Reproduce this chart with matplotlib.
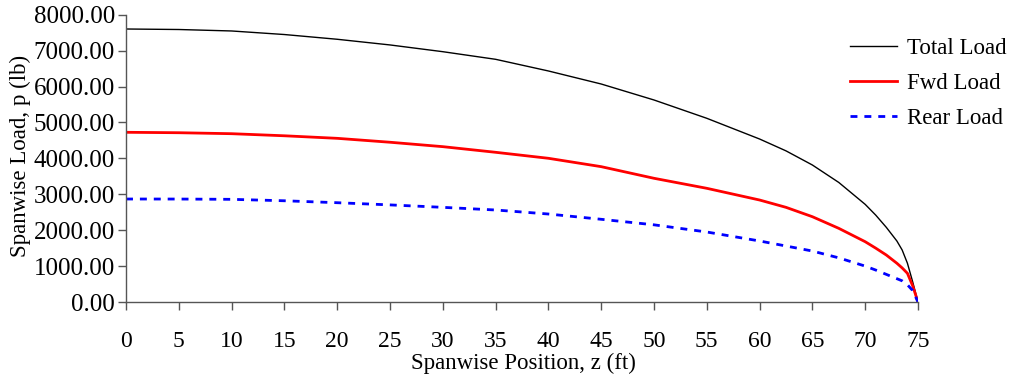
import matplotlib
matplotlib.use("Agg")
from matplotlib import pyplot as plt

# spanwise position (ft) and loads (lb)
z = [0, 5, 10, 15, 20, 25, 30, 35, 40, 45, 50, 55, 60, 62.5, 65, 67.5, 70,
     71, 72, 73, 73.5, 74, 74.5, 75]
total_load = [7604, 7590, 7549, 7450, 7318, 7160, 6972, 6760, 6435, 6072, 5627,
              5117, 4540, 4210, 3816, 3330, 2720, 2420, 2080, 1700, 1450, 1080,
              560, 0]
fwd_load = [4727, 4715, 4688, 4630, 4559, 4450, 4327, 4170, 4003, 3770, 3446,
            3167, 2841, 2637, 2376, 2052, 1680, 1500, 1309, 1080, 950, 800,
            450, 0]
rear_load = [2869, 2868, 2860, 2820, 2766, 2705, 2637, 2563, 2451, 2304, 2150,
             1950, 1700, 1560, 1420, 1230, 1000, 890, 770, 650, 590, 480,
             320, 0]

yticks = [0, 1000, 2000, 3000, 4000, 5000, 6000, 7000, 8000]
xticks = list(range(0, 80, 5))


def run_main():
    plt.rcParams['font.family'] = ['Liberation Serif', 'DejaVu Serif']
    fig = plt.figure(figsize=(10.13, 3.81), dpi=100)
    ax = fig.add_axes([0.1244, 0.2073, 0.9062 - 0.1244, 0.9612 - 0.2073])

    ax.plot(z, total_load, color='black', lw=1.0, label='Total Load')
    ax.plot(z, fwd_load, color='#ff0000', lw=2.0, label='Fwd Load')
    ax.plot(z, rear_load, color='#0000ff', lw=2.0, ls=(0, (2.5, 2.5)), label='Rear Load')

    ax.set_xlim(0, 75)
    ax.set_ylim(0, 8000)
    ax.set_xticks(xticks)
    ax.set_yticks(yticks)
    ax.set_yticklabels(['%.2f' % v for v in yticks])
    ax.tick_params(axis='both', direction='out', length=6, width=1,
                   color='#555555', labelsize=17)
    ax.tick_params(axis='y', labelsize=18, pad=2)
    ax.tick_params(axis='x', pad=15)
    for s in ['top', 'right']:
        ax.spines[s].set_visible(False)
    for s in ['left', 'bottom']:
        ax.spines[s].set_color('#555555')
        ax.spines[s].set_linewidth(1.0)

    fig.text(0.5165, 1 - 363 / 381, 'Spanwise Position, z (ft)', ha='center',
             va='center', fontsize=16.5)
    fig.text(20 / 1013, 1 - 257 / 381, 'Spanwise Load, p (lb)', rotation=90,
             ha='center', va='bottom', fontsize=16.5)

    ax.legend(loc='upper left', bbox_to_anchor=(0.888, 0.99), frameon=False,
              fontsize=16.5, handlelength=2.05, labelspacing=0.6,
              handletextpad=0.44)

    fig.savefig('out.png', dpi=100)
    return ''


if __name__ == '__main__':
    run_main()
